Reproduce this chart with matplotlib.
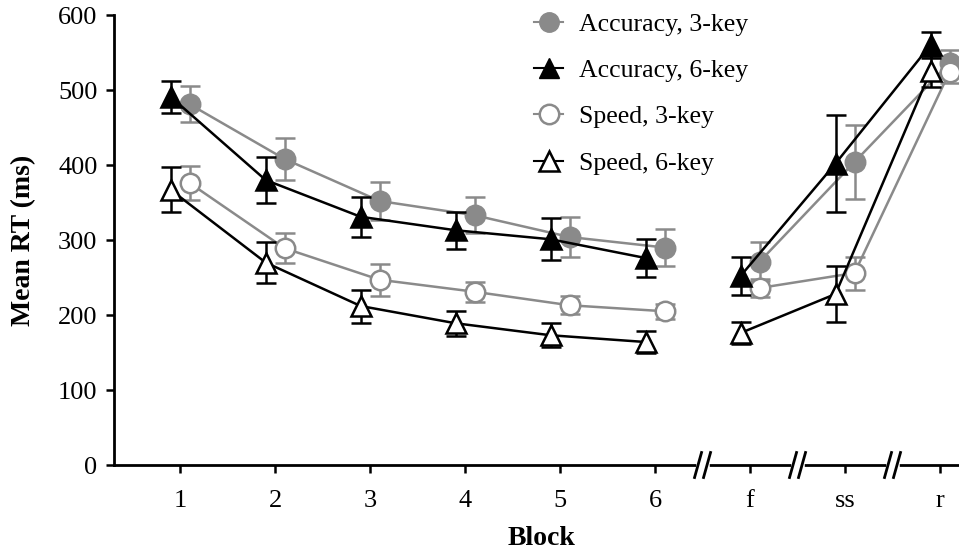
import matplotlib
matplotlib.use("Agg")
import matplotlib.pyplot as plt
from matplotlib.lines import Line2D
import numpy as np

plt.rcParams['font.family'] = ['Liberation Serif', 'DejaVu Serif']

blocks = ["1", "2", "3", "4", "5", "6", "f", "ss", "r"]

acc3 = [481, 408, 352, 333, 304, 290, 271, 404, 536]
acc3_err = [24, 28, 25, 24, 27, 25, 26, 49, 17]

acc6 = [491, 380, 331, 313, 301, 276, 252, 402, 560]
acc6_err = [21, 31, 27, 25, 28, 25, 25, 65, 17]

spd3 = [376, 289, 247, 231, 213, 205, 236, 256, 524]
spd3_err = [23, 20, 21, 13, 12, 10, 12, 22, 15]

spd6 = [367, 270, 212, 189, 173, 164, 176, 228, 525]
spd6_err = [30, 27, 22, 17, 16, 15, 15, 37, 21]

labels = ["Accuracy, 3-key", "Accuracy, 6-key", "Speed, 3-key", "Speed, 6-key"]

GRAY = "#8a8a8a"
CIRC = 14
TRI = 15

fig = plt.figure(figsize=(9.59, 5.52), dpi=100)
ax = fig.add_axes([0.119, 0.1576, 0.881, 0.8152])

x = np.arange(1, len(blocks) + 1, dtype=float)
segments = [slice(0, 6), slice(6, 9)]

series = [
    (acc3, acc3_err, +0.1, GRAY, 'o', GRAY, 2),
    (spd3, spd3_err, +0.1, GRAY, 'o', 'white', 2),
    (acc6, acc6_err, -0.1, 'black', '^', 'black', 3),
    (spd6, spd6_err, -0.1, 'black', '^', 'white', 3),
]

for vals, errs, off, col, mk, fc, z in series:
    vals = np.array(vals, dtype=float)
    errs = np.array(errs, dtype=float)
    xs = x + off
    for sl in segments:
        ax.plot(xs[sl], vals[sl], color=col, lw=1.8, zorder=z, solid_capstyle='butt')
    ax.errorbar(xs, vals, yerr=errs, fmt='none', ecolor=col, elinewidth=1.8,
                capsize=7, capthick=1.8, zorder=z)
    ax.plot(xs, vals, linestyle='none', marker=mk, markersize=CIRC if mk == 'o' else TRI,
            markerfacecolor=fc, markeredgecolor=col, markeredgewidth=1.8, zorder=z + 0.5)

ax.set_xlim(0.305, 9.2)
ax.set_ylim(0, 600)
ax.set_yticks([0, 100, 200, 300, 400, 500, 600])
ax.set_xticks(x)
ax.set_xticklabels(blocks)

for s in ['top', 'right']:
    ax.spines[s].set_visible(False)
for s in ['left', 'bottom']:
    ax.spines[s].set_linewidth(2)
ax.tick_params(axis='both', direction='out', length=6, width=1.8, labelsize=19, colors='black')
ax.tick_params(axis='x', pad=12)
ax.tick_params(axis='y', pad=6)

ax.set_ylabel("Mean RT (ms)", fontsize=20, fontweight='bold')
ax.yaxis.set_label_coords(-0.0923, 0.5)
ax.set_xlabel("Block", fontsize=20, fontweight='bold')
ax.xaxis.set_label_coords(0.506, -0.136)

# Axis break marks
trans = ax.get_xaxis_transform()
px = 1.0 / 95.0  # data units per pixel (approx)
ax_h = 0.8152 * 552
for bx in [6.5, 7.5, 8.5]:
    ax.plot([bx - 4 * px, bx + 4 * px], [0, 0], transform=trans, color='white',
            lw=4, clip_on=False, zorder=10)
    for dx in [-4.5 * px, 4.5 * px]:
        ax.plot([bx + dx - 3.5 * px, bx + dx + 3.5 * px],
                [-12.5 / ax_h, 12.5 / ax_h], transform=trans, color='black',
                lw=2, clip_on=False, zorder=11)

handles = [
    Line2D([], [], color=GRAY, marker='o', markersize=CIRC, markerfacecolor=GRAY,
           markeredgecolor=GRAY, lw=1.5),
    Line2D([], [], color='black', marker='^', markersize=TRI, markerfacecolor='black',
           markeredgecolor='black', lw=1.5),
    Line2D([], [], color=GRAY, marker='o', markersize=CIRC, markerfacecolor='white',
           markeredgecolor=GRAY, markeredgewidth=1.8, lw=1.5),
    Line2D([], [], color='black', marker='^', markersize=TRI, markerfacecolor='white',
           markeredgecolor='black', markeredgewidth=1.8, lw=1.5),
]
leg = fig.legend(handles, labels, loc='upper left', bbox_to_anchor=(0.533, 1.019),
                 frameon=False, fontsize=18.5, handlelength=1.13, handletextpad=0.62,
                 labelspacing=0.91)

fig.savefig("out.png", dpi=100)
